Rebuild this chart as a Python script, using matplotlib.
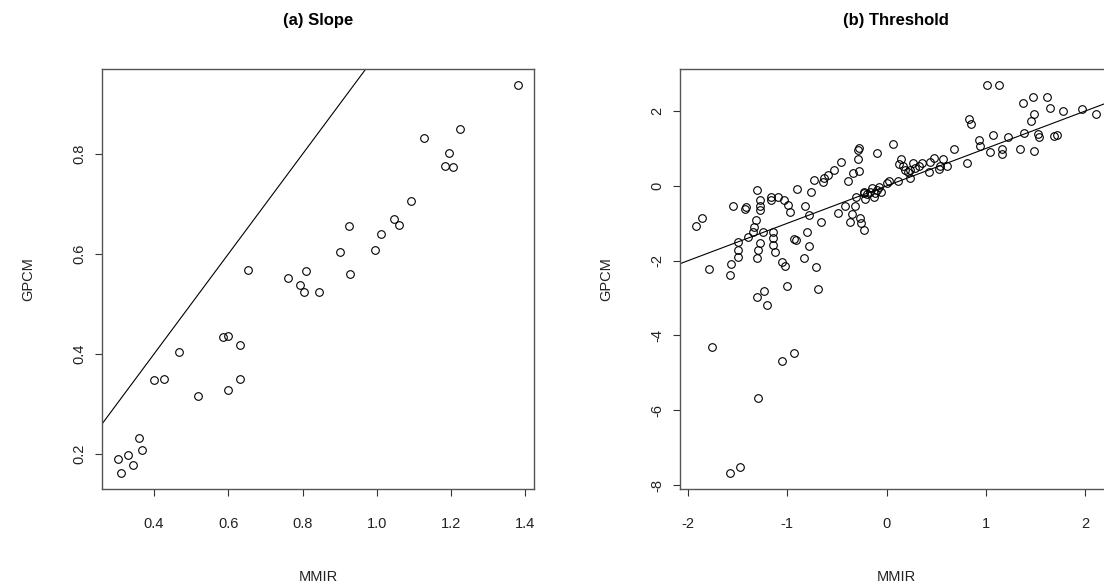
import matplotlib
matplotlib.use("Agg")
import matplotlib.pyplot as plt

plt.rcParams['font.family'] = ['Liberation Sans', 'DejaVu Sans']
plt.rcParams['axes.unicode_minus'] = False

# ---- Panel (a) Slope ----
slope_mmir = [0.303, 0.330, 0.311, 0.344, 0.360, 0.367, 0.400, 0.426, 0.468, 0.518,
              0.585, 0.600, 0.600, 0.632, 0.632, 0.652, 0.760, 0.793, 0.809, 0.805,
              0.843, 0.901, 0.925, 0.928, 0.994, 1.012, 1.046, 1.059, 1.092, 1.127,
              1.194, 1.183, 1.206, 1.223, 1.380]
slope_gpcm = [0.190, 0.197, 0.161, 0.178, 0.231, 0.207, 0.347, 0.349, 0.403, 0.315,
              0.433, 0.435, 0.327, 0.417, 0.349, 0.569, 0.552, 0.537, 0.567, 0.523,
              0.523, 0.604, 0.657, 0.560, 0.609, 0.641, 0.670, 0.659, 0.706, 0.833,
              0.802, 0.777, 0.775, 0.851, 0.939]
slope_xticks = [0.4, 0.6, 0.8, 1.0, 1.2, 1.4]
slope_yticks = [0.2, 0.4, 0.6, 0.8]

# ---- Panel (b) Threshold ----
thr_mmir = [-1.92, -1.86, -1.79, -1.58, -1.57, -1.55, -1.50, -1.50, -1.50, -1.43,
            -1.42, -1.40, -1.35, -1.34, -1.32, -1.31, -1.28, -1.28, -1.28, -1.25,
            -1.28, -1.30, -1.31, -1.31, -1.23, -1.20, -1.16, -1.16, -1.14, -1.14,
            -1.14, -1.12, -1.09, -1.05, -1.02, -1.03, -0.99, -0.97, -1.00, -0.93,
            -0.91, -0.90, -0.83, -0.82, -0.80, -0.78, -0.78, -0.76, -0.73, -0.71,
            -0.69, -0.66, -0.64, -0.63, -0.59, -0.53, -0.49, -0.46, -0.42, -0.39,
            -0.37, -0.35, -0.34, -0.32, -0.31, -0.29, -0.29, -0.28, -0.28, -0.27,
            -0.26, -0.23, -0.23, -0.22,
            -0.23, -0.20, -0.17, -0.15, -0.13, -0.10, -0.08, -0.06, -0.12,
            -0.10, 0.00, 0.02, 0.06, 0.12, 0.15, 0.13, 0.17, 0.19, 0.22,
            0.24, 0.24, 0.27, 0.29, 0.33, 0.36, 0.43, 0.44, 0.48, 0.53,
            0.54, 0.57, 0.61, 0.68, 0.81, 0.83, 0.85, 0.93, 0.94, 1.01,
            1.04, 1.07, 1.13, 1.16, 1.16, 1.22, 1.34, 1.37, 1.38, 1.46,
            1.48, 1.49, 1.49, 1.53, 1.54, 1.62, 1.65, 1.69, 1.72, 1.78,
            1.97, 2.11,
            -1.76, -1.30, -1.05, -0.93, -1.58, -1.48]
thr_gpcm = [-1.07, -0.85, -2.23, -2.39, -2.09, -0.53, -1.90, -1.71, -1.51, -0.62,
            -0.56, -1.37, -1.24, -1.10, -0.91, -0.10, -0.37, -0.53, -0.64, -1.22,
            -1.53, -1.71, -1.93, -2.98, -2.81, -3.18, -0.37, -0.30, -1.24, -1.40,
            -1.58, -1.77, -0.29, -2.03, -2.13, -0.37, -0.51, -0.70, -2.69, -1.41,
            -1.45, -0.07, -1.93, -0.53, -1.24, -0.79, -1.60, -0.17, 0.16, -2.16,
            -2.75, -0.96, 0.11, 0.21, 0.29, 0.43, -0.73, 0.65, -0.55, 0.13,
            -0.96, -0.76, 0.34, -0.55, -0.29, 0.71, 0.96, 1.01, 0.40, -0.87,
            -0.98, -1.18, -0.17, -0.35,
            -0.20, -0.22, -0.16, -0.06, -0.29, -0.12, -0.04, -0.16, -0.20,
            0.87, 0.09, 0.12, 1.12, 0.14, 0.72, 0.58, 0.52, 0.43, 0.38,
            0.21, 0.43, 0.62, 0.49, 0.52, 0.62, 0.36, 0.65, 0.74, 0.45,
            0.54, 0.71, 0.52, 0.98, 0.62, 1.79, 1.66, 1.23, 1.07, 2.71,
            0.91, 1.37, 2.71, 0.98, 0.84, 1.30, 0.99, 2.21, 1.41, 1.73,
            2.39, 1.93, 0.94, 1.40, 1.31, 2.39, 2.09, 1.34, 1.37, 2.01,
            2.05, 1.93,
            -4.30, -5.67, -4.69, -4.46, -7.69, -7.52]
thr_xticks = [-2, -1, 0, 1, 2]
thr_yticks = [-8, -6, -4, -2, 0, 2]

W, H = 1104, 588
fig = plt.figure(figsize=(W / 100, H / 100), dpi=100)

def px_axes(left, right, top, bottom):
    return fig.add_axes([left / W, (H - bottom) / H, (right - left) / W, (bottom - top) / H])

ax1 = px_axes(102, 534, 69, 489)
ax2 = px_axes(680, 1112, 69, 489)

panels = [
    (ax1, slope_mmir, slope_gpcm, slope_xticks, slope_yticks, "(a) Slope"),
    (ax2, thr_mmir, thr_gpcm, thr_xticks, thr_yticks, "(b) Threshold"),
]

def fmt(v):
    return f"{v:d}" if isinstance(v, int) else f"{v:.1f}"

for ax, xs, ys, xt, yt, title in panels:
    ax.plot(xs, ys, linestyle='none', marker='o', markersize=5.5,
            markerfacecolor='none', markeredgecolor='black', markeredgewidth=0.8)
    ax.margins(0.04)
    ax.set_xlim(ax.get_xlim())
    ax.set_ylim(ax.get_ylim())
    ax.axline((0, 0), slope=1, color='black', linewidth=0.8)
    ax.set_xticks(xt)
    ax.set_yticks(yt)
    ax.set_xticklabels([fmt(v) for v in xt])
    ax.set_yticklabels([fmt(v) for v in yt], rotation=90, va='center')
    ax.tick_params(direction='out', length=5, width=0.8, labelsize=10.5,
                   color='#333333', labelcolor='#222222')
    ax.tick_params(axis='x', pad=15)
    ax.tick_params(axis='y', pad=6)
    for s in ax.spines.values():
        s.set_color('#555555')
        s.set_linewidth(1.0)
    ax.set_xlabel("MMIR", fontsize=10.5, labelpad=28, color='#222222')
    ax.set_ylabel("GPCM", fontsize=10.5, labelpad=27, color='#222222')
    ax.set_title(title, fontsize=12, fontweight='bold', pad=32)

fig.savefig("out.png", dpi=100)
